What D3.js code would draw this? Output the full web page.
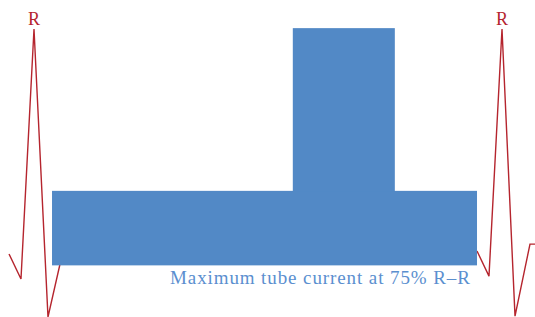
<!DOCTYPE html>
<html>
<head>
<meta charset="utf-8">
<script src="https://cdn.jsdelivr.net/npm/d3@7"></script>
<style>
  body { margin: 0; background: #fff; }
  svg { display: block; }
</style>
</head>
<body>
<script>
// phase is fraction of the R-R interval, level is 0-100 arbitrary units
var ecgLeft = [
  { phase: -0.0534, level: 21.9 },
  { phase: -0.0278, level: 13.2 },
  { phase: 0, level: 100 },
  { phase: 0.0299, level: 0 },
  { phase: 0.0556, level: 18.4 }
];
var ecgRight = [
  { phase: 0.9466, level: 22.9 },
  { phase: 0.9722, level: 14.2 },
  { phase: 1, level: 100 },
  { phase: 1.0278, level: 0.3 },
  { phase: 1.0598, level: 25.3 },
  { phase: 1.0705, level: 25.3 }
];
// tube current blocks
var tubeBlocks = [
  { start: 0.0385, end: 0.9466, low: 18.1, high: 43.8 },
  { start: 0.553, end: 0.771, low: 43.8, high: 100.3 }
];
var peakLabels = [0, 1];
var caption = "Maximum tube current at 75% R\u2013R";

var svgWidth = 535;
var svgHeight = 317;

var svg = d3.select("body")
  .append("svg")
  .attr("width", svgWidth)
  .attr("height", svgHeight);

var xScale = d3.scaleLinear()
  .domain([0, 1])
  .range([34, 502]);

var yScale = d3.scaleLinear()
  .domain([0, 100])
  .range([317, 29]);

var line = d3.line()
  .x(d => xScale(d.phase))
  .y(d => yScale(d.level));

[ecgLeft, ecgRight].forEach(function(pts) {
  svg.append("path")
    .datum(pts)
    .attr("d", line)
    .attr("fill", "none")
    .attr("stroke", "#b5252e")
    .attr("stroke-width", 1.4)
    .attr("stroke-linejoin", "miter");
});

svg.selectAll(".block")
  .data(tubeBlocks)
  .enter()
  .append("rect")
  .attr("class", "block")
  .attr("x", d => xScale(d.start))
  .attr("width", d => xScale(d.end) - xScale(d.start))
  .attr("y", d => yScale(d.high))
  .attr("height", d => yScale(d.low) - yScale(d.high) + 0.5)
  .attr("fill", "#5289c6");

svg.selectAll(".rlabel")
  .data(peakLabels)
  .enter()
  .append("text")
  .attr("class", "rlabel")
  .attr("x", d => xScale(d))
  .attr("y", 25)
  .attr("text-anchor", "middle")
  .style("font-family", "'Liberation Serif', 'DejaVu Serif', serif")
  .style("font-size", "18px")
  .attr("fill", "#b5252e")
  .text("R");

svg.append("text")
  .attr("x", 170)
  .attr("y", 284)
  .style("font-family", "'Liberation Serif', 'DejaVu Serif', serif")
  .style("font-size", "19px")
  .style("letter-spacing", "0.9px")
  .attr("fill", "#5b8fcf")
  .text(caption);
</script>
</body>
</html>
